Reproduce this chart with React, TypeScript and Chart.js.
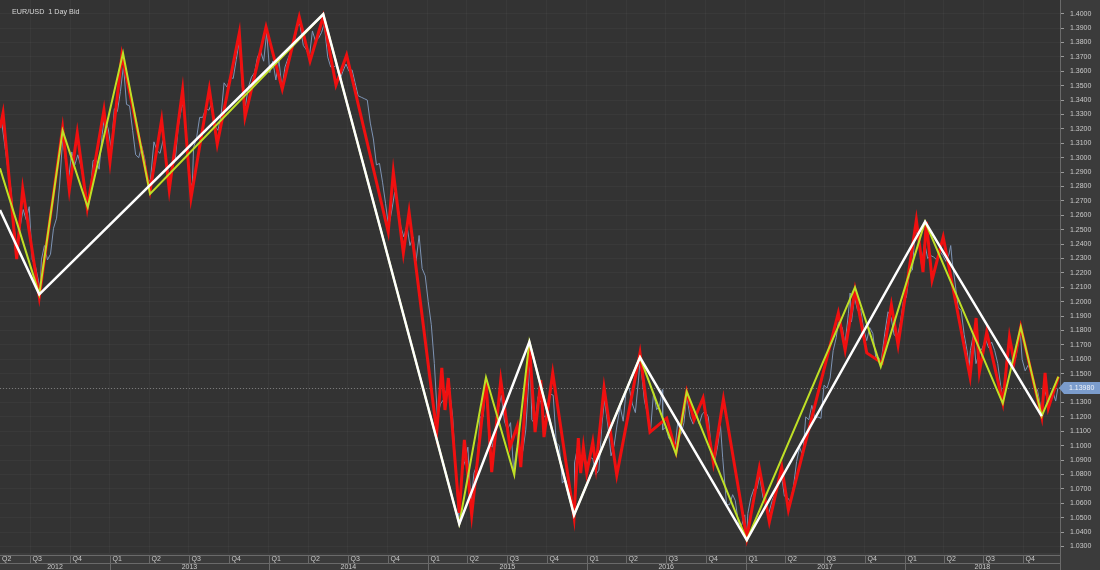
import { useEffect, useRef } from "react";
import { Chart, registerables } from "chart.js";

Chart.register(...registerables);

const chartTitle = "EUR/USD  1 Day Bid";
const xRangeStart = 2012.308;
const xRangeEnd = 2018.978;
const yRangeMin = 1.0255;
const yRangeMax = 1.4095;
const yTickFirst = 1.03;
const yTickLast = 1.4;
const yTickStep = 0.01;
const quarterLabels = ["Q1", "Q2", "Q3", "Q4"];
const yearLabels = ["2012", "2013", "2014", "2015", "2016", "2017", "2018"];
const lastPrice = 1.1398;

// [decimal year, price]
const whiteSwings: [number, number][] = [
  [2012.308, 1.2637], [2012.555, 1.2051], [2014.342, 1.3996], [2015.198, 1.0456],
  [2015.639, 1.1722], [2015.92, 1.0519], [2016.335, 1.1614], [2017.007, 1.0345],
  [2018.129, 1.2556], [2018.863, 1.1206],
];

const yellowSwings: [number, number][] = [
  [2012.308, 1.2926], [2012.555, 1.2051], [2012.702, 1.3188], [2012.86, 1.2656],
  [2013.082, 1.3727], [2013.252, 1.2748], [2014.342, 1.3996], [2015.198, 1.0456],
  [2015.366, 1.1475], [2015.544, 1.0797], [2015.639, 1.1722], [2015.92, 1.0519],
  [2016.335, 1.1614], [2016.562, 1.0942], [2016.629, 1.1375], [2017.007, 1.0345],
  [2017.688, 1.21], [2017.85, 1.1549], [2018.129, 1.2556], [2018.618, 1.1294],
  [2018.731, 1.1826], [2018.863, 1.1206], [2018.968, 1.1479],
];

const redSwings: [number, number][] = [
  [2012.308, 1.3206], [2012.327, 1.331], [2012.413, 1.2296], [2012.451, 1.2783],
  [2012.555, 1.2033], [2012.702, 1.3206], [2012.744, 1.2776], [2012.794, 1.3172],
  [2012.857, 1.2651], [2012.962, 1.3331], [2013.0, 1.297], [2013.075, 1.3713],
  [2013.252, 1.2769], [2013.325, 1.3262], [2013.373, 1.2776], [2013.457, 1.347],
  [2013.51, 1.272], [2013.625, 1.3477], [2013.675, 1.3095], [2013.814, 1.3866],
  [2013.85, 1.3283], [2013.982, 1.3908], [2014.084, 1.3477], [2014.191, 1.3977],
  [2014.259, 1.3672], [2014.342, 1.3979], [2014.422, 1.3505], [2014.489, 1.3713],
  [2014.751, 1.2484], [2014.783, 1.2901], [2014.846, 1.2338], [2014.882, 1.2623],
  [2015.056, 1.1095], [2015.088, 1.154], [2015.108, 1.1248], [2015.129, 1.147],
  [2015.198, 1.0533], [2015.23, 1.104], [2015.276, 1.0519], [2015.366, 1.1456],
  [2015.402, 1.0817], [2015.459, 1.1456], [2015.517, 1.0991], [2015.563, 1.1137],
  [2015.585, 1.0852], [2015.639, 1.1713], [2015.675, 1.1095], [2015.711, 1.1456],
  [2015.731, 1.106], [2015.786, 1.1505], [2015.92, 1.0505], [2015.947, 1.1053],
  [2015.962, 1.081], [2015.979, 1.0991], [2016.0, 1.081], [2016.038, 1.1026],
  [2016.058, 1.0852], [2016.109, 1.1401], [2016.189, 1.0796], [2016.335, 1.1644],
  [2016.398, 1.1095], [2016.503, 1.1192], [2016.562, 1.0956], [2016.629, 1.1373],
  [2016.675, 1.1178], [2016.732, 1.1331], [2016.797, 1.088], [2016.86, 1.1324],
  [2017.007, 1.0359], [2017.086, 1.0845], [2017.149, 1.047], [2017.227, 1.0852],
  [2017.269, 1.0554], [2017.583, 1.1922], [2017.626, 1.1665], [2017.688, 1.2081],
  [2017.762, 1.1644], [2017.858, 1.1574], [2017.917, 1.1977], [2017.959, 1.1699],
  [2018.074, 1.2567], [2018.116, 1.2206], [2018.137, 1.2554], [2018.173, 1.2151],
  [2018.243, 1.2449], [2018.412, 1.1477], [2018.45, 1.1887], [2018.471, 1.1512],
  [2018.517, 1.179], [2018.618, 1.1298], [2018.66, 1.1755], [2018.689, 1.1581],
  [2018.731, 1.1824], [2018.863, 1.12], [2018.884, 1.1505], [2018.905, 1.1262],
  [2018.968, 1.1477],
];

const priceDates = [
  "2012-04-20","2012-04-27","2012-05-04","2012-05-11","2012-05-18","2012-05-25","2012-06-01","2012-06-08",
  "2012-06-15","2012-06-22","2012-06-29","2012-07-06","2012-07-13","2012-07-20","2012-07-24","2012-07-27",
  "2012-08-03","2012-08-10","2012-08-17","2012-08-24","2012-08-31","2012-09-07","2012-09-14","2012-09-21",
  "2012-09-28","2012-10-05","2012-10-12","2012-10-19","2012-10-26","2012-11-02","2012-11-09","2012-11-16",
  "2012-11-23","2012-11-30","2012-12-07","2012-12-14","2012-12-19","2012-12-28",
  "2013-01-04","2013-01-11","2013-01-18","2013-01-25","2013-02-01","2013-02-08","2013-02-15","2013-02-22",
  "2013-03-01","2013-03-08","2013-03-15","2013-03-22","2013-03-29","2013-04-04","2013-04-12","2013-04-19",
  "2013-04-26","2013-05-03","2013-05-10","2013-05-17","2013-05-24","2013-05-31","2013-06-07","2013-06-14",
  "2013-06-19","2013-06-28","2013-07-05","2013-07-09","2013-07-12","2013-07-19","2013-07-26","2013-08-02",
  "2013-08-09","2013-08-16","2013-08-23","2013-08-30","2013-09-06","2013-09-13","2013-09-20","2013-09-27",
  "2013-10-04","2013-10-11","2013-10-18","2013-10-25","2013-11-01","2013-11-08","2013-11-15","2013-11-22",
  "2013-11-29","2013-12-06","2013-12-13","2013-12-20","2013-12-27",
  "2014-01-03","2014-01-10","2014-01-17","2014-01-24","2014-01-31","2014-02-07","2014-02-14","2014-02-21",
  "2014-02-28","2014-03-07","2014-03-13","2014-03-21","2014-03-28","2014-04-04","2014-04-11","2014-04-18",
  "2014-04-25","2014-05-02","2014-05-08","2014-05-16","2014-05-23","2014-05-30","2014-06-05","2014-06-13",
  "2014-06-20","2014-06-27","2014-07-04","2014-07-11","2014-07-18","2014-07-25","2014-08-01","2014-08-08",
  "2014-08-15","2014-08-22","2014-08-29","2014-09-05","2014-09-12","2014-09-19","2014-09-26","2014-10-03",
  "2014-10-10","2014-10-17","2014-10-24","2014-10-31","2014-11-07","2014-11-14","2014-11-21","2014-11-28",
  "2014-12-05","2014-12-12","2014-12-19","2014-12-26",
  "2015-01-02","2015-01-09","2015-01-16","2015-01-23","2015-01-30","2015-02-06","2015-02-13","2015-02-20",
  "2015-02-27","2015-03-06","2015-03-13","2015-03-20","2015-03-27","2015-04-03","2015-04-10","2015-04-17",
  "2015-04-24","2015-05-01","2015-05-08","2015-05-15","2015-05-22","2015-05-29","2015-06-05","2015-06-12",
  "2015-06-19","2015-06-26","2015-07-03","2015-07-10","2015-07-17","2015-07-24","2015-07-31","2015-08-07",
  "2015-08-14","2015-08-24","2015-08-28","2015-09-04","2015-09-11","2015-09-18","2015-09-25","2015-10-02",
  "2015-10-09","2015-10-16","2015-10-23","2015-10-30","2015-11-06","2015-11-13","2015-11-20","2015-11-27",
  "2015-12-03","2015-12-04","2015-12-11","2015-12-18","2015-12-25",
  "2016-01-01","2016-01-08","2016-01-15","2016-01-22","2016-01-29","2016-02-05","2016-02-11","2016-02-19",
  "2016-02-26","2016-03-04","2016-03-11","2016-03-18","2016-03-25","2016-04-01","2016-04-08","2016-04-15",
  "2016-04-22","2016-04-29","2016-05-03","2016-05-13","2016-05-20","2016-05-27","2016-06-03","2016-06-10",
  "2016-06-17","2016-06-23","2016-06-24","2016-07-01","2016-07-08","2016-07-15","2016-07-22","2016-07-29",
  "2016-08-05","2016-08-12","2016-08-18","2016-08-26","2016-09-02","2016-09-09","2016-09-16","2016-09-23",
  "2016-09-30","2016-10-07","2016-10-14","2016-10-21","2016-10-28","2016-11-04","2016-11-09","2016-11-18",
  "2016-11-25","2016-12-02","2016-12-08","2016-12-16","2016-12-23","2016-12-30",
  "2017-01-03","2017-01-06","2017-01-13","2017-01-20","2017-01-27","2017-02-02","2017-02-10","2017-02-17",
  "2017-02-22","2017-03-03","2017-03-10","2017-03-17","2017-03-24","2017-03-31","2017-04-07","2017-04-14",
  "2017-04-21","2017-04-28","2017-05-05","2017-05-12","2017-05-19","2017-05-26","2017-06-02","2017-06-09",
  "2017-06-16","2017-06-23","2017-06-30","2017-07-07","2017-07-14","2017-07-21","2017-07-28","2017-08-02",
  "2017-08-11","2017-08-17","2017-08-25","2017-08-29","2017-09-01","2017-09-08","2017-09-15","2017-09-22",
  "2017-09-29","2017-10-06","2017-10-13","2017-10-20","2017-10-27","2017-11-03","2017-11-07","2017-11-17",
  "2017-11-24","2017-12-01","2017-12-08","2017-12-15","2017-12-22","2017-12-29",
  "2018-01-05","2018-01-12","2018-01-19","2018-01-25","2018-02-02","2018-02-09","2018-02-16","2018-02-23",
  "2018-03-02","2018-03-09","2018-03-16","2018-03-23","2018-03-30","2018-04-06","2018-04-13","2018-04-17",
  "2018-04-20","2018-04-27","2018-05-04","2018-05-11","2018-05-18","2018-05-25","2018-05-29","2018-06-01",
  "2018-06-08","2018-06-14","2018-06-22","2018-06-29","2018-07-06","2018-07-13","2018-07-20","2018-07-27",
  "2018-08-03","2018-08-10","2018-08-15","2018-08-24","2018-08-31","2018-09-07","2018-09-14","2018-09-21",
  "2018-09-24","2018-09-28","2018-10-05","2018-10-12","2018-10-19","2018-10-26","2018-11-02","2018-11-12",
  "2018-11-16","2018-11-23","2018-11-30","2018-12-07","2018-12-14","2018-12-19",
];

const priceValues = [
  1.3210,1.3240,1.3080,1.2920,1.2780,1.2520,1.2360,1.2520,
  1.2640,1.2570,1.2660,1.2290,1.2250,1.2150,1.2070,1.2290,
  1.2390,1.2290,1.2330,1.2510,1.2580,1.2810,1.3130,1.2980,
  1.2860,1.3040,1.2950,1.3020,1.2940,1.2830,1.2710,1.2740,
  1.2980,1.2990,1.2920,1.3160,1.3280,1.3200,
  1.3060,1.3340,1.3320,1.3460,1.3640,1.3370,1.3360,1.3190,
  1.3020,1.3000,1.3080,1.2990,1.2820,1.2850,1.3110,1.3050,
  1.3030,1.3120,1.2990,1.2840,1.2930,1.2990,1.3220,1.3340,
  1.3390,1.3010,1.2830,1.2790,1.3070,1.3140,1.3280,1.3280,
  1.3340,1.3330,1.3380,1.3220,1.3190,1.3290,1.3520,1.3490,
  1.3560,1.3550,1.3680,1.3810,1.3490,1.3360,1.3490,1.3560,
  1.3590,1.3700,1.3740,1.3670,1.3870,
  1.3590,1.3670,1.3540,1.3680,1.3480,1.3630,1.3690,1.3740,
  1.3800,1.3910,1.3930,1.3780,1.3750,1.3700,1.3880,1.3810,
  1.3830,1.3870,1.3930,1.3700,1.3630,1.3630,1.3640,1.3540,
  1.3600,1.3650,1.3600,1.3610,1.3520,1.3430,1.3420,1.3410,
  1.3400,1.3240,1.3130,1.2950,1.2960,1.2830,1.2680,1.2520,
  1.2630,1.2760,1.2670,1.2520,1.2450,1.2530,1.2390,1.2450,
  1.2280,1.2460,1.2230,1.2180,
  1.2000,1.1840,1.1570,1.1200,1.1290,1.1320,1.1390,1.1380,
  1.1200,1.0840,1.0500,1.0820,1.0890,1.0990,1.0600,1.0810,
  1.0870,1.1200,1.1200,1.1450,1.1010,1.0990,1.1110,1.1260,
  1.1350,1.1170,1.1110,1.1160,1.0830,1.0980,1.0980,1.0960,
  1.1110,1.1610,1.1180,1.1150,1.1340,1.1300,1.1200,1.1210,
  1.1360,1.1350,1.1020,1.1000,1.0740,1.0770,1.0650,1.0590,
  1.0560,1.0880,1.0990,1.0870,1.0960,
  1.0860,1.0920,1.0910,1.0800,1.0830,1.1150,1.1320,1.1130,
  1.0930,1.1000,1.1150,1.1270,1.1170,1.1390,1.1400,1.1290,
  1.1230,1.1450,1.1600,1.1310,1.1220,1.1110,1.1370,1.1250,
  1.1280,1.1390,1.1110,1.1130,1.1050,1.1040,1.0980,1.1170,
  1.1080,1.1160,1.1350,1.1200,1.1150,1.1230,1.1150,1.1220,
  1.1240,1.1200,1.0970,1.0880,1.0990,1.1140,1.0920,1.0590,
  1.0590,1.0660,1.0620,1.0450,1.0450,1.0520,
  1.0350,1.0530,1.0640,1.0700,1.0700,1.0790,1.0640,1.0610,
  1.0520,1.0620,1.0670,1.0740,1.0800,1.0650,1.0640,1.0610,
  1.0720,1.0890,1.0990,1.0930,1.1200,1.1180,1.1280,1.1190,
  1.1200,1.1190,1.1420,1.1400,1.1470,1.1660,1.1750,1.1860,
  1.1820,1.1700,1.1920,1.2060,1.1860,1.2030,1.1940,1.1950,
  1.1810,1.1730,1.1820,1.1780,1.1610,1.1610,1.1560,1.1790,
  1.1930,1.1890,1.1770,1.1750,1.1850,1.2000,
  1.2030,1.2200,1.2220,1.2490,1.2460,1.2250,1.2410,1.2300,
  1.2320,1.2310,1.2290,1.2350,1.2320,1.2280,1.2330,1.2390,
  1.2290,1.2130,1.1960,1.1940,1.1770,1.1650,1.1540,1.1660,
  1.1770,1.1570,1.1650,1.1680,1.1740,1.1680,1.1720,1.1660,
  1.1570,1.1410,1.1320,1.1620,1.1600,1.1550,1.1620,1.1750,
  1.1780,1.1600,1.1520,1.1560,1.1510,1.1400,1.1390,1.1230,
  1.1420,1.1340,1.1320,1.1380,1.1310,1.1398,
];

function toYear(d: string): number {
  const [y, m, dd] = d.split("-").map(Number);
  const s = Date.UTC(y, 0, 1);
  const e = Date.UTC(y + 1, 0, 1);
  return y + (Date.UTC(y, m - 1, dd) - s) / (e - s);
}

const COLORS = {
  plot: "#333333",
  axis: "#3b3b3b",
  grid: "rgba(255,255,255,0.03)",
  text: "#c9c9c9",
  axisLine: "#6a6a6a",
  price: "#7d93b4",
  red: "#f01010",
  yellow: "#bfe026",
  white: "#ffffff",
  label: "#7b9ccc",
};
const FONT = "'Liberation Sans', Arial, sans-serif";

export default function App() {
  const ref = useRef<HTMLCanvasElement | null>(null);

  useEffect(() => {
    document.body.style.margin = "0";
    const canvas = ref.current;
    if (!canvas) return;

    const quarterStarts: { v: number; label: string }[] = [];
    const yearStarts: { v: number; label: string }[] = [];
    yearLabels.forEach((yl) => {
      yearStarts.push({ v: toYear(`${yl}-01-01`), label: yl });
      quarterLabels.forEach((ql, qi) => {
        quarterStarts.push({ v: toYear(`${yl}-${String(qi * 3 + 1).padStart(2, "0")}-01`), label: ql });
      });
    });

    const yTicks: number[] = [];
    for (let k = Math.round(yTickFirst / yTickStep); k <= Math.round(yTickLast / yTickStep); k++) {
      yTicks.push(+(k * yTickStep).toFixed(4));
    }

    const backgroundPlugin = {
      id: "bg",
      beforeDraw(chart: any) {
        const { ctx, chartArea } = chart;
        ctx.save();
        ctx.fillStyle = COLORS.axis;
        ctx.fillRect(0, 0, chart.width, chart.height);
        ctx.fillStyle = COLORS.plot;
        ctx.fillRect(chartArea.left, chartArea.top, chartArea.right - chartArea.left, chartArea.bottom - chartArea.top);
        ctx.restore();
      },
      beforeDatasetsDraw(chart: any) {
        const { ctx, chartArea, scales } = chart;
        const y = Math.round(scales.y.getPixelForValue(lastPrice)) + 0.5;
        ctx.save();
        ctx.strokeStyle = "rgba(200,200,200,0.45)";
        ctx.lineWidth = 1;
        ctx.setLineDash([1, 2]);
        ctx.beginPath();
        ctx.moveTo(chartArea.left, y);
        ctx.lineTo(chartArea.right, y);
        ctx.stroke();
        ctx.restore();
      },
      afterDraw(chart: any) {
        const { ctx, chartArea, scales } = chart;
        const xs = scales.x;
        const left = chartArea.left;
        const right = chartArea.right;
        const top = chartArea.bottom;
        ctx.save();
        // title
        ctx.fillStyle = "#d6d6d6";
        ctx.font = `7.2px ${FONT}`;
        ctx.textBaseline = "middle";
        ctx.textAlign = "left";
        ctx.fillText(chartTitle, 12, 12);

        // bottom axis
        const l1 = top + 2.5;
        const l2 = top + 10.5;
        ctx.strokeStyle = COLORS.axisLine;
        ctx.lineWidth = 1;
        ctx.beginPath();
        ctx.moveTo(left, l1); ctx.lineTo(right, l1);
        ctx.moveTo(left, l2); ctx.lineTo(right, l2);
        ctx.stroke();
        ctx.font = `7px ${FONT}`;
        ctx.fillStyle = COLORS.text;
        ctx.textBaseline = "middle";
        quarterStarts.forEach((q, i) => {
          const end = i + 1 < quarterStarts.length ? quarterStarts[i + 1].v : toYear(`${+yearLabels[yearLabels.length - 1] + 1}-01-01`);
          if (end <= xRangeStart || q.v >= xRangeEnd) return;
          let px = left + 2;
          if (q.v > xRangeStart) {
            px = Math.round(xs.getPixelForValue(q.v)) + 0.5;
            ctx.beginPath();
            ctx.moveTo(px, l1); ctx.lineTo(px, l2);
            ctx.stroke();
            px += 2;
          }
          ctx.textAlign = "left";
          ctx.fillText(q.label, px, top + 6.5);
        });
        yearStarts.forEach((yr, i) => {
          const end = i + 1 < yearStarts.length ? yearStarts[i + 1].v : toYear(`${+yr.label + 1}-01-01`);
          if (end <= xRangeStart || yr.v >= xRangeEnd) return;
          const a = Math.max(yr.v, xRangeStart);
          const b = Math.min(end, xRangeEnd);
          if (yr.v > xRangeStart) {
            const px = Math.round(xs.getPixelForValue(yr.v)) + 0.5;
            ctx.beginPath();
            ctx.moveTo(px, l1); ctx.lineTo(px, chart.height);
            ctx.stroke();
          }
          const cx = (xs.getPixelForValue(a) + xs.getPixelForValue(b)) / 2;
          ctx.textAlign = "center";
          ctx.fillText(yr.label, cx, top + 14.5);
        });
        ctx.beginPath();
        ctx.moveTo(right + 0.5, top); ctx.lineTo(right + 0.5, chart.height);
        ctx.stroke();

        // last price label
        const py = Math.round(scales.y.getPixelForValue(lastPrice));
        ctx.fillStyle = COLORS.label;
        ctx.beginPath();
        ctx.moveTo(right - 1, py);
        ctx.lineTo(right + 4, py - 6);
        ctx.lineTo(chart.width, py - 6);
        ctx.lineTo(chart.width, py + 6);
        ctx.lineTo(right + 4, py + 6);
        ctx.closePath();
        ctx.fill();
        ctx.fillStyle = "#eef2fa";
        ctx.font = `7px ${FONT}`;
        ctx.textAlign = "left";
        ctx.textBaseline = "middle";
        ctx.fillText(lastPrice.toFixed(5), right + 9, py + 0.5);
        ctx.restore();
      },
    };

    const chart = new Chart(canvas, {
      type: "line",
      data: {
        datasets: [
          {
            data: whiteSwings.map(([x, y]) => ({ x, y })),
            borderColor: COLORS.white,
            borderWidth: 2.5,
            pointRadius: 0,
            tension: 0,
          },
          {
            data: yellowSwings.map(([x, y]) => ({ x, y })),
            borderColor: COLORS.yellow,
            borderWidth: 2,
            pointRadius: 0,
            tension: 0,
          },
          {
            data: redSwings.map(([x, y]) => ({ x, y })),
            borderColor: COLORS.red,
            borderWidth: 3,
            pointRadius: 0,
            tension: 0,
          },
          {
            data: priceDates.map((d, i) => ({ x: toYear(d), y: priceValues[i] })),
            borderColor: COLORS.price,
            borderWidth: 1,
            pointRadius: 0,
            tension: 0,
          },
        ],
      },
      options: {
        animation: false,
        responsive: false,
        maintainAspectRatio: false,
        devicePixelRatio: 1,
        layout: { padding: 0 },
        plugins: { legend: { display: false }, tooltip: { enabled: false } },
        events: [],
        scales: {
          x: {
            type: "linear",
            min: xRangeStart,
            max: xRangeEnd,
            afterBuildTicks: (s: any) => {
              s.ticks = quarterStarts.filter((q) => q.v > xRangeStart && q.v < xRangeEnd).map((q) => ({ value: q.v }));
            },
            afterFit: (s: any) => {
              s.height = 17;
              s.paddingLeft = 0;
              s.paddingRight = 0;
            },
            ticks: { display: false },
            grid: { color: COLORS.grid, drawTicks: false },
            border: { display: false },
          },
          y: {
            type: "linear",
            position: "right",
            min: yRangeMin,
            max: yRangeMax,
            afterBuildTicks: (s: any) => {
              s.ticks = yTicks.map((v) => ({ value: v }));
            },
            afterFit: (s: any) => {
              s.width = 40;
              s.paddingTop = 0;
              s.paddingBottom = 0;
            },
            ticks: {
              color: COLORS.text,
              font: { size: 7, family: FONT },
              padding: 6,
              autoSkip: false,
              callback: (v: any) => Number(v).toFixed(4),
            },
            grid: { color: COLORS.grid, tickLength: 4, tickColor: "#9a9a9a" },
            border: { color: COLORS.axisLine },
          },
        },
      },
      plugins: [backgroundPlugin],
    } as any);

    return () => chart.destroy();
  }, []);

  return <canvas ref={ref} width={1100} height={570} style={{ display: "block", width: 1100, height: 570 }} />;
}
